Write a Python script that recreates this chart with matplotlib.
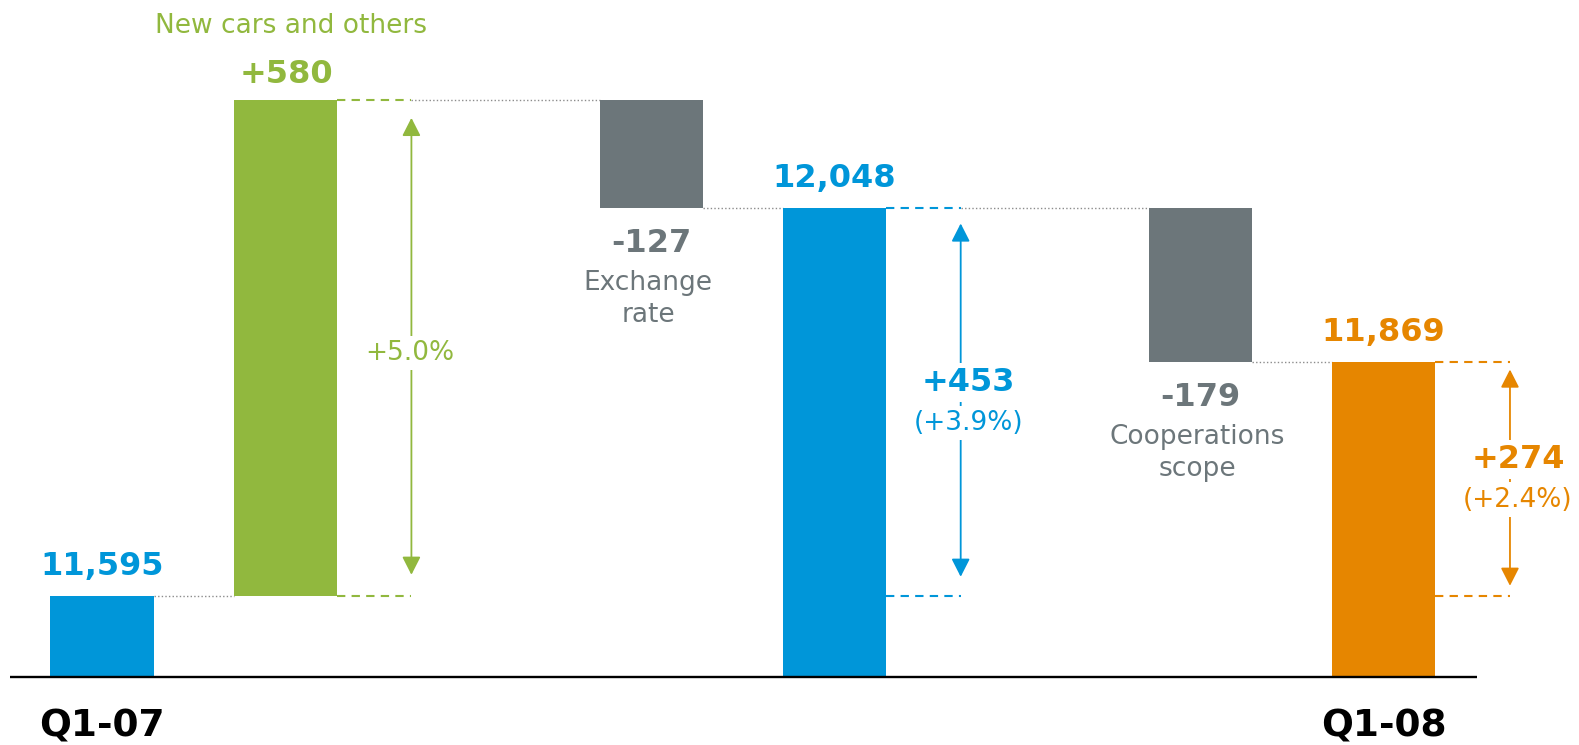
import numpy as np
import matplotlib.pyplot as plt

# Waterfall Q1-07 -> Q1-08
names = ['Q1-07', 'New cars and others', 'Exchange\nrate', '', 'Cooperations\nscope', 'Q1-08']
kinds = ['total', 'delta', 'delta', 'total', 'delta', 'total']
values = [11595, 580, -127, 12048, -179, 11869]
value_labels = ['11,595', '+580', '-127', '12,048', '-179', '11,869']
slots = [0, 1, 3, 4, 6, 7]

# growth brackets, measured from the Q1-07 level up to the top of a bar
bracket_bar = [1, 3, 5]
bracket_main = ['', '+453', '+274']
bracket_pct = ['+5.0%', '(+3.9%)', '(+2.4%)']

base_level = 11500

blue = '#0096D9'
green = '#91B83E'
grey = '#6C767A'
orange = '#E68600'
bar_colors = [blue, green, grey, blue, grey, orange]
bracket_colors = [green, blue, orange]

plt.rcParams['font.family'] = ['DejaVu Sans']

fig = plt.figure(figsize=(15.79, 7.45), dpi=100)
ax = fig.add_axes([0, 0, 1, 1])
ax.set_xlim(-0.557, 8.067)
ax.set_ylim(11420.5, 12291.8)
ax.axis('off')

PX = 0.72  # points per pixel at 100 dpi
w = 0.563

# running totals
bottoms, tops = [], []
running = 0
for k, v in zip(kinds, values):
    if k == 'total':
        bottoms.append(base_level)
        tops.append(v)
        running = v
    else:
        lo, hi = sorted([running, running + v])
        bottoms.append(lo)
        tops.append(hi)
        running += v
bottoms = np.array(bottoms)
tops = np.array(tops)

ax.bar(slots, tops - bottoms, bottom=bottoms, width=w, color=bar_colors, zorder=2)

# baseline
ax.plot([-0.502, 7.51], [base_level, base_level], color='black', lw=1.7,
        solid_capstyle='butt', zorder=3)

# labels on bars
for i, (s, k, v) in enumerate(zip(slots, kinds, values)):
    c = bar_colors[i]
    if k == 'total':
        ax.annotate(value_labels[i], (s, tops[i]), xytext=(0, 21 * PX),
                    textcoords='offset points', ha='center', va='baseline',
                    fontsize=23, fontweight='bold', color=c)
        ax.annotate(names[i], (s, base_level), xytext=(0, -59 * PX),
                    textcoords='offset points', ha='center', va='baseline',
                    fontsize=27, fontweight='bold', color='black')
    elif v > 0:
        ax.annotate(value_labels[i], (s, tops[i]), xytext=(1, 17 * PX),
                    textcoords='offset points', ha='center', va='baseline',
                    fontsize=23, fontweight='bold', color=c)
        ax.annotate(names[i], (s, tops[i]), xytext=(6 * PX, 67 * PX),
                    textcoords='offset points', ha='center', va='baseline',
                    fontsize=19, color=c)
    else:
        ax.annotate(value_labels[i], (s, bottoms[i]), xytext=(0, -44 * PX),
                    textcoords='offset points', ha='center', va='baseline',
                    fontsize=23, fontweight='bold', color=c)
        # baseline here is the last line of the two
        ax.annotate(names[i], (s, bottoms[i]), xytext=(-3 * PX, -114 * PX),
                    textcoords='offset points', ha='center', va='baseline',
                    fontsize=19, color=c, linespacing=1.3)

# brackets
dot_kw = dict(color='#8C8C8C', lw=1.0, dashes=(1, 1.6), zorder=1)
arrow_x = {}
for j, b in enumerate(bracket_bar):
    c = bracket_colors[j]
    s = slots[b]
    x = s + 0.69
    arrow_x[b] = x
    top = tops[b]
    for lvl in (top, values[0]):
        ax.plot([s + w / 2, x], [lvl, lvl], color=c, lw=1.5, dashes=(4, 3), zorder=1)
    ax.annotate('', xy=(x, top), xytext=(x, values[0]),
                arrowprops=dict(arrowstyle='<|-|>,head_length=0.55,head_width=0.28',
                                mutation_scale=20, color=c, lw=1.3,
                                shrinkA=[21, 19, 10][j] * PX, shrinkB=[18, 15, 8][j] * PX),
                zorder=1)
    mid = (top + values[0]) / 2
    if bracket_main[j]:
        ax.annotate(bracket_main[j], (x, mid), xytext=(8 * PX, 11 * PX),
                    textcoords='offset points', ha='center', va='baseline',
                    fontsize=23, fontweight='bold', color=c,
                    bbox=dict(fc='white', ec='none', pad=3), zorder=4)
        ax.annotate(bracket_pct[j], (x, mid), xytext=(8 * PX, -28 * PX),
                    textcoords='offset points', ha='center', va='baseline',
                    fontsize=19, color=c,
                    bbox=dict(fc='white', ec='none', pad=3), zorder=4)
    else:
        ax.annotate(bracket_pct[j], (x, mid), xytext=(-2 * PX, -12 * PX),
                    textcoords='offset points', ha='center', va='baseline',
                    fontsize=19, color=c,
                    bbox=dict(fc='white', ec='none', pad=3), zorder=4)

# dotted connectors between consecutive bars
for i in range(len(slots) - 1):
    level = tops[i] if (kinds[i] == 'total' or values[i] > 0) else bottoms[i]
    if kinds[i + 1] == 'total':
        level = values[i + 1]
    x0 = arrow_x.get(i, slots[i] + w / 2)
    x1 = slots[i + 1] - w / 2
    ax.plot([x0, x1], [level, level], **dot_kw)

fig.savefig('out.png', dpi=100)
